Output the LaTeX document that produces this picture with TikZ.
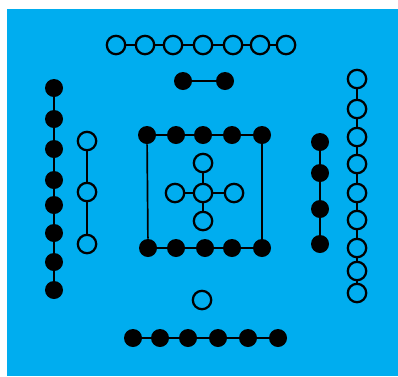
\documentclass[tikz,border=0pt]{standalone}
\usetikzlibrary{positioning}
\definecolor{riverblue}{RGB}{0,173,239}

\begin{document}
\begin{tikzpicture}[
  x=0.025cm, y=-0.025cm,
  yang/.style={circle, draw=black, line width=1.6pt, minimum size=0.46cm,
               inner sep=0pt},
  yin/.style={circle, fill=black, minimum size=0.45cm, inner sep=0pt},
  link/.style={line width=1.2pt, black},
]
%% ---------- Frame ----------------------------------------------
\useasboundingbox (0,0) rectangle (398,376);
\fill[riverblue] (7,9) rectangle (398,376);

%% ---------- South (top): 7 open, 2 filled ----------------------
\foreach \x [count=\i] in {116,145,173,203,233,260,286}
  \node[yang] (top\i) at (\x,45) {};
\foreach \i [remember=\i as \last (initially 1)] in {2,...,7}
  \draw[link] (top\last) -- (top\i);
\node[yin] (pairA) at (183,81) {};
\node[yin] (pairB) at (225,81) {};
\draw[link] (pairA) -- (pairB);

%% ---------- East (left): 8 filled, 3 open ----------------------
\foreach \y [count=\i] in {88,119,149,180,205,233,262,290}
  \node[yin] (left\i) at (54,\y) {};
\foreach \i [remember=\i as \last (initially 1)] in {2,...,8}
  \draw[link] (left\last) -- (left\i);
\foreach \y [count=\i] in {141,192,244}
  \node[yang] (three\i) at (87,\y) {};
\draw[link] (three1) -- (three2);
\draw[link] (three2) -- (three3);

%% ---------- Centre: 10 filled round 5 open ---------------------
\foreach \x [count=\i] in {147,176,203,232,262}
  \node[yin] (sqtop\i) at (\x,135) {};
\foreach \x [count=\i] in {148,176,205,232,262}
  \node[yin] (sqbot\i) at (\x,248) {};
\foreach \i [remember=\i as \last (initially 1)] in {2,...,5} {
  \draw[link] (sqtop\last) -- (sqtop\i);
  \draw[link] (sqbot\last) -- (sqbot\i);
}
\draw[link] (sqtop1) -- (sqbot1);
\draw[link] (sqtop5) -- (sqbot5);

\node[yang] (mid)   at (203,193) {};
\node[yang] (midN)  at (203,163) {};
\node[yang] (midS)  at (203,221) {};
\node[yang] (midW)  at (175,193) {};
\node[yang] (midE)  at (234,193) {};
\foreach \n in {midN,midS,midW,midE}
  \draw[link] (mid) -- (\n);

%% ---------- West (right): 4 filled, 9 open ---------------------
\foreach \y [count=\i] in {142,173,209,244}
  \node[yin] (four\i) at (320,\y) {};
\foreach \i [remember=\i as \last (initially 1)] in {2,...,4}
  \draw[link] (four\last) -- (four\i);
\foreach \y [count=\i] in {79,109,137,164,193,220,248,271,293}
  \node[yang] (right\i) at (357,\y) {};
\foreach \i [remember=\i as \last (initially 1)] in {2,...,9}
  \draw[link] (right\last) -- (right\i);

%% ---------- North (bottom): 1 open, 6 filled -------------------
\node[yang] (one) at (202,300) {};
\foreach \x [count=\i] in {133,160,188,218,248,278}
  \node[yin] (bot\i) at (\x,338) {};
\foreach \i [remember=\i as \last (initially 1)] in {2,...,6}
  \draw[link] (bot\last) -- (bot\i);
\end{tikzpicture}
\end{document}
